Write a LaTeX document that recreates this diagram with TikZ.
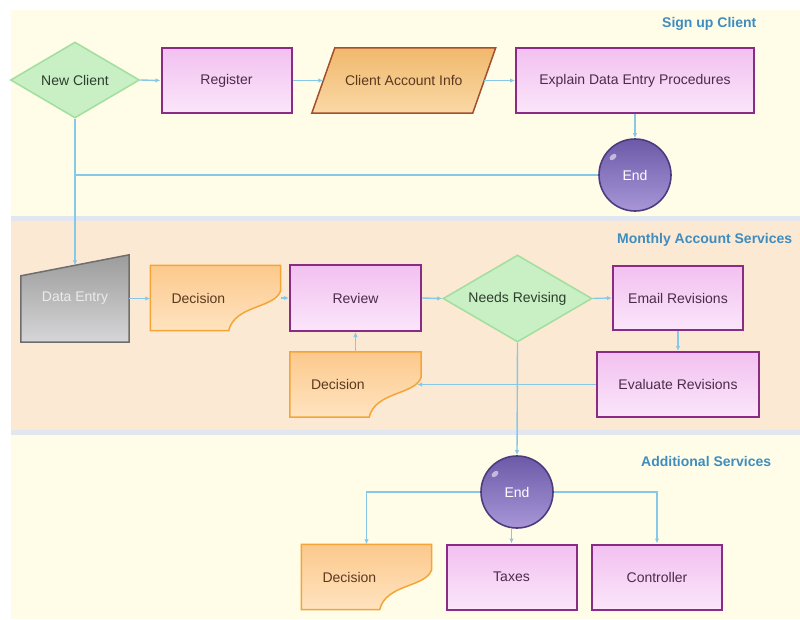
\documentclass[tikz,border=0pt]{standalone}
\usepackage{fontspec}
\setmainfont{Liberation Sans}
\usetikzlibrary{arrows.meta,shapes.geometric,calc}
\pgfdeclarelayer{lanes}
\pgfdeclarelayer{shp}
\pgfsetlayers{lanes,shp,main}

\definecolor{laneA}{HTML}{FFFDE8}
\definecolor{laneB}{HTML}{FCE9D3}
\definecolor{lanesep}{HTML}{E2E6EE}
\definecolor{titleblue}{HTML}{3F8DBF}
\definecolor{wire}{HTML}{86C8E8}
\definecolor{procline}{HTML}{8A2C86}
\definecolor{proctop}{HTML}{F2C0F0}
\definecolor{procmid}{HTML}{F6D0F5}
\definecolor{procbot}{HTML}{FBE6FA}
\definecolor{procink}{HTML}{4A2C4A}
\definecolor{diamfill}{HTML}{C8F0C4}
\definecolor{diamline}{HTML}{A2DE9E}
\definecolor{diamink}{HTML}{2E3E2E}
\definecolor{decitop}{HTML}{FCC98C}
\definecolor{decibot}{HTML}{FFE3C0}
\definecolor{deciline}{HTML}{F5A535}
\definecolor{deciink}{HTML}{5A3A1E}
\definecolor{paratop}{HTML}{F0B86C}
\definecolor{parabot}{HTML}{FAD9A6}
\definecolor{paraline}{HTML}{A4502E}
\definecolor{manualtop}{HTML}{9C9C9C}
\definecolor{manualbot}{HTML}{D6D6D8}
\definecolor{manualline}{HTML}{6E6E6E}
\definecolor{endtop}{HTML}{6C5AA8}
\definecolor{endbot}{HTML}{A896D8}
\definecolor{endline}{HTML}{4C3C7E}

% outline of a "decision" card: rectangle with a curved cut at the lower right
\newcommand\decipath[1]{%
  \path[decishape] (#1.north west) -- (#1.north east) -- ([yshift=40pt]#1.south east)
    .. controls ([xshift=-6pt,yshift=22pt]#1.south east) and ([xshift=-46pt,yshift=26pt]#1.south east)
    .. ([xshift=-52pt]#1.south east) -- (#1.south west) -- cycle;}
% small gloss spot on an end ball
\newcommand\glint[1]{%
  \fill[white, opacity=0.55] ([xshift=-22pt,yshift=18pt]#1.center) ellipse [x radius=4pt, y radius=2.5pt, rotate=40];}

\begin{document}
\begin{tikzpicture}[x=1pt,y=-1pt,
  font=\fontsize{14}{16}\selectfont,
  proc/.style={rectangle, draw=procline, line width=2pt, top color=proctop, middle color=procmid,
    bottom color=procbot, text=procink, minimum width=130pt, minimum height=65pt, inner sep=2pt},
  diam/.style={diamond, aspect=1.7, inner sep=0pt, draw=diamline, line width=1.5pt, fill=diamfill,
    text=diamink, minimum width=129pt, minimum height=76pt},
  plainbox/.style={rectangle, inner sep=0pt},
  deci/.style={rectangle, inner xsep=21pt, inner ysep=0pt, text width=88pt, align=left,
    minimum height=65pt, text=deciink},
  decishape/.style={draw=deciline, line width=1.5pt, top color=decitop, bottom color=decibot},
  parashape/.style={draw=paraline, line width=1.5pt, top color=paratop, bottom color=parabot},
  manualshape/.style={draw=manualline, line width=1.5pt, top color=manualtop, bottom color=manualbot},
  endc/.style={circle, minimum size=72pt, inner sep=0pt, top color=endtop, bottom color=endbot,
    draw=endline, line width=1.6pt, line join=round, text=white},
  conn/.style={draw=wire, line width=1.4pt},
  arr/.style={conn, -{Latex[length=5pt,width=4.5pt]}},
  lanetitle/.style={font=\fontsize{14}{16}\selectfont\bfseries, text=titleblue, inner sep=0pt, anchor=west}]

% swim lanes
\begin{pgfonlayer}{lanes}
  \fill[white] (0,0) rectangle (800,619);
  \fill[laneA] (11,10) rectangle (800,216);
  \fill[lanesep] (11,216) rectangle (800,221);
  \fill[laneB] (11,221) rectangle (800,430);
  \fill[lanesep] (11,430) rectangle (800,435);
  \fill[laneA] (11,435) rectangle (800,619);
\end{pgfonlayer}
\useasboundingbox (0,0) rectangle (800,619);

\node[lanetitle] (t1) at (662,24) {Sign up Client};
\node[lanetitle] (t2) at (617,240) {Monthly Account Services};
\node[lanetitle] (t3) at (641,461) {Additional Services};

% lane 1
\node[diam] (nc) at (75,80) {New Client};
\node[proc] (reg) at (226.5,80.5) {Register};
\node[plainbox, minimum width=160.5pt, minimum height=65pt, text=deciink] (cai) at (403.75,80.5) {Client Account Info};
\node[proc, minimum width=238pt] (expl) at (635,80.5) {Explain Data Entry Procedures};
\node[endc] (end1) at (635,175) {End};

% lane 2
\node[plainbox, minimum width=108pt, minimum height=87pt, text=white!92!black] (de) at (75,298.5) {Data Entry};
\node[deci] (dec1) at (215.5,298) {Decision};
\node[proc, minimum width=131pt, minimum height=66pt] (rev) at (355.5,298) {Review};
\node[diam, minimum width=149pt, minimum height=87pt] (need) at (517.5,298.5) {Needs Revising};
\node[proc, minimum height=64pt] (email) at (678,298) {Email Revisions};
\node[proc, minimum width=162pt] (eval) at (678,384.5) {Evaluate Revisions};
\node[deci, text width=89pt] (dec2) at (355.5,384.5) {Decision};

% lane 3
\node[endc] (end2) at (517,492) {End};
\node[deci] (dec3) at (366.5,577) {Decision};
\node[proc] (tax) at (511.5,577) {Taxes};
\node[proc] (ctrl) at (657,577) {Controller};

% outlines of the drawn shapes
\begin{pgfonlayer}{shp}
  \path[parashape] ([xshift=11.5pt]cai.north west) -- ([xshift=11.5pt]cai.north east)
    -- ([xshift=-11.5pt]cai.south east) -- ([xshift=-11.5pt]cai.south west) -- cycle;
  \path[manualshape] (de.south west) -- ([yshift=-21pt]de.north west) -- (de.north east)
    -- (de.south east) -- cycle;
  \decipath{dec1}
  \decipath{dec2}
  \decipath{dec3}
\end{pgfonlayer}
\glint{end1}
\glint{end2}

% connectors
\coordinate (detop) at ($(de.north)+(0,10.5)$);
\coordinate (dec2cut) at ($(dec2.east)+(-4,0)$);
\draw[arr] (nc.east) -- (reg.west);
\draw[arr] (reg.east) -- (cai.west);
\draw[arr] (cai.east) -- (expl.west);
\draw[arr] (expl.south) -- (end1.north);
\draw[conn] (end1.west) -- (end1.west -| nc.south);
\draw[arr] (nc.south) -- (detop);
\draw[arr] (de.east) -- (de.east -| dec1.west);
\draw[arr] (dec1.east) -- (rev.west);
\draw[arr] (rev.east) -- (need.west);
\draw[arr] (need.east) -- (email.west);
\draw[arr] (email.south) -- (eval.north);
\draw[arr] (eval.west) -- (dec2cut);
\draw[arr] (dec2.north) -- (rev.south);
\draw[arr] (need.south) -- (end2.north);
\draw[arr] (end2.west) -| (dec3.north);
\draw[arr] (end2.south -| tax.north) -- (tax.north);
\draw[arr] (end2.east) -| (ctrl.north);
\end{tikzpicture}
\end{document}
